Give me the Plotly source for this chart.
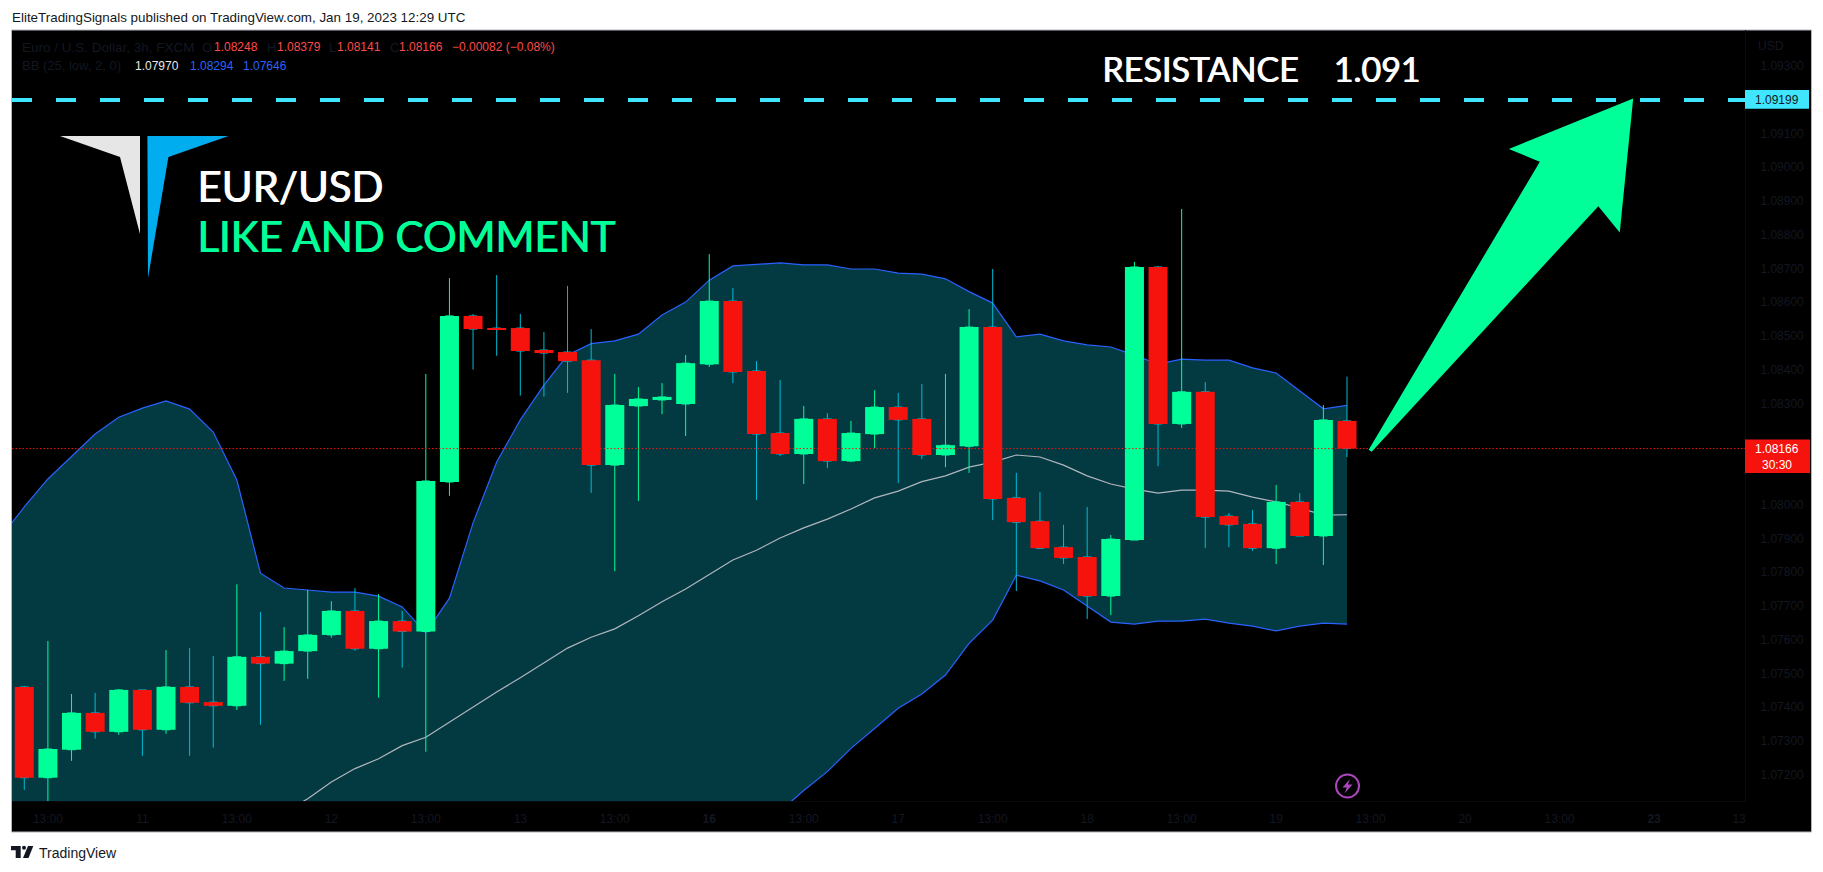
import plotly.graph_objects as go

# ---------- data ----------
open_ = [1.07460,1.07191,1.07274,1.07383,1.07327,1.07451,1.07333,1.07460,1.07415,1.07404,
         1.07549,1.07529,1.07566,1.07614,1.07685,1.07573,1.07655,1.07624,1.08067,1.08559,
         1.08523,1.08523,1.08458,1.08452,1.08428,1.08117,1.08292,1.08310,1.08298,1.08416,
         1.08603,1.08396,1.08212,1.08150,1.08254,1.08129,1.08209,1.08289,1.08254,1.08147,
         1.08173,1.08526,1.08020,1.07951,1.07874,1.07845,1.07729,1.07895,1.08704,1.08239,
         1.08334,1.07966,1.07943,1.07871,1.08008,1.07907,1.08248]
high = [1.07463,1.07596,1.07439,1.07442,1.07454,1.07451,1.07569,1.07575,1.07552,1.07764,
        1.07682,1.07637,1.07747,1.07714,1.07753,1.07735,1.07685,1.08387,1.08671,1.08565,
        1.08680,1.08565,1.08511,1.08648,1.08520,1.08387,1.08348,1.08360,1.08443,1.08742,
        1.08642,1.08425,1.08369,1.08292,1.08271,1.08248,1.08339,1.08331,1.08357,1.08387,
        1.08579,1.08698,1.08094,1.08037,1.07940,1.07993,1.07910,1.08719,1.08707,1.08876,
        1.08363,1.07975,1.07984,1.08058,1.08034,1.08295,1.08379]
low = [1.07155,1.07115,1.07241,1.07307,1.07318,1.07256,1.07321,1.07256,1.07280,1.07392,
       1.07348,1.07478,1.07484,1.07606,1.07567,1.07428,1.07517,1.07268,1.08026,1.08400,
       1.08441,1.08323,1.08320,1.08331,1.08035,1.07803,1.08011,1.08268,1.08203,1.08408,
       1.08360,1.08014,1.08144,1.08061,1.08108,1.08126,1.08168,1.08064,1.08135,1.08111,
       1.08094,1.07954,1.07744,1.07868,1.07824,1.07661,1.07673,1.07895,1.08114,1.08227,
       1.07871,1.07874,1.07863,1.07824,1.07907,1.07821,1.08141]
close = [1.07191,1.07276,1.07383,1.07327,1.07451,1.07333,1.07460,1.07413,1.07404,1.07549,
         1.07529,1.07566,1.07614,1.07685,1.07573,1.07655,1.07624,1.08070,1.08559,1.08520,
         1.08520,1.08455,1.08449,1.08425,1.08117,1.08295,1.08313,1.08319,1.08419,1.08603,
         1.08393,1.08209,1.08150,1.08254,1.08129,1.08212,1.08289,1.08251,1.08147,1.08176,
         1.08526,1.08017,1.07948,1.07871,1.07842,1.07729,1.07898,1.08704,1.08239,1.08334,
         1.07963,1.07940,1.07871,1.08008,1.07907,1.08251,1.08166]

# Bollinger bands, first point is the bar before the first visible candle
bb_upper = [1.07904,1.07993,1.08076,1.08144,1.08209,1.08259,1.08286,1.08307,1.08283,1.08215,
            1.08073,1.07797,1.07753,1.07747,1.07741,1.07741,1.07729,1.07697,1.07620,1.07723,
            1.07946,1.08126,1.08251,1.08354,1.08443,1.08477,1.08485,1.08505,1.08562,1.08600,
            1.08665,1.08707,1.08711,1.08716,1.08710,1.08710,1.08698,1.08698,1.08686,1.08683,
            1.08669,1.08631,1.08597,1.08497,1.08505,1.08485,1.08473,1.08467,1.08443,1.08416,
            1.08431,1.08428,1.08428,1.08405,1.08390,1.08336,1.08284,1.08294]
bb_lower = [1.0560,1.0565,1.0572,1.0578,1.0585,1.0592,1.0600,1.0610,1.0622,1.0590,
            1.0628,1.0635,1.0642,1.06511,1.06615,1.06695,1.06765,1.06875,1.07002,1.06989,
            1.06856,1.06764,1.06723,1.06710,1.06707,1.06737,1.06779,1.06841,1.06872,1.06918,
            1.06929,1.06971,1.07037,1.07092,1.07153,1.07209,1.07278,1.07337,1.07397,1.07439,
            1.07495,1.07589,1.07658,1.07791,1.07774,1.07747,1.07700,1.07652,1.07646,1.07655,
            1.07655,1.07661,1.07649,1.07640,1.07626,1.07640,1.07649,1.07646]
basis_first_bar = 11
bb_basis = [1.07087,1.07129,1.07178,1.07218,1.07247,1.07286,1.07311,1.07356,1.07401,1.07445,
            1.07487,1.07532,1.07575,1.07607,1.07632,1.07671,1.07712,1.07750,1.07794,1.07836,
            1.07865,1.07901,1.07931,1.07957,1.07987,1.08020,1.08040,1.08068,1.08085,1.08111,
            1.08126,1.08147,1.08141,1.08117,1.08085,1.08061,1.08046,1.08034,1.08043,1.08043,
            1.08040,1.08022,1.08008,1.07990,1.07969,1.07970]

resistance = 1.09199
last_close = 1.08166

# 1.081, 1.082 and 1.092 sit behind the value labels in the reference
price_ticks = [1.072,1.073,1.074,1.075,1.076,1.077,1.078,1.079,1.080,1.083,
               1.084,1.085,1.086,1.087,1.088,1.089,1.090,1.091,1.093]
time_tick_bars = [1,5,9,13,17,21,25,29,33,37,41,45,49,53,57,61,65,69,72.6]
time_tick_text = ["13:00","11","13:00","12","13:00","13","13:00","<b>16</b>","13:00","17",
                  "13:00","18","13:00","19","13:00","20","13:00","<b>23</b>","13"]

# ---------- palette ----------
GREEN, RED, CYAN_WICK = "#00FF99", "#F7130D", "#00BCD4"
BAND_FILL, BLUE, GREY = "#033A42", "#2962FF", "#B2B5BE"
DARK, LINE_CYAN, LEG_RED = "#131722", "#40E6FF", "#FF4A4A"
W, H = 1823, 872
L, R, T, B = 12, 78, 30, 71
X_RANGE = [-0.52, 72.85]
Y_RANGE = [1.07122, 1.09406]

bars = list(range(len(open_)))
band_x = list(range(-1, len(open_)))
basis_x = list(range(basis_first_bar, len(open_)))

fig = go.Figure()

# Bollinger bands (bottom subplot layer)
fig.add_trace(go.Scatter(x=band_x, y=bb_upper, mode="lines", line=dict(color=BLUE, width=1.2), showlegend=False))
fig.add_trace(go.Scatter(x=band_x, y=bb_lower, mode="lines", line=dict(color=BLUE, width=1.2),
                         fill="tonexty", fillcolor=BAND_FILL, showlegend=False))
fig.add_trace(go.Scatter(x=basis_x, y=bb_basis, mode="lines", line=dict(color=GREY, width=1.2), showlegend=False))

# Wicks: candlestick trace; wick colours differ from the body colours
fig.add_trace(go.Candlestick(x=bars, open=open_, high=high, low=low, close=close, yaxis="y2",
                             whiskerwidth=0, showlegend=False,
                             increasing=dict(line=dict(color=GREEN, width=1), fillcolor=GREEN),
                             decreasing=dict(line=dict(color=CYAN_WICK, width=1), fillcolor=CYAN_WICK)))

# Bodies on top
up = [i for i in bars if close[i] >= open_[i]]
dn = [i for i in bars if close[i] < open_[i]]
for idx, col in ((up, GREEN), (dn, RED)):
    fig.add_trace(go.Bar(x=idx,
                         base=[min(open_[i], close[i]) for i in idx],
                         y=[abs(close[i] - open_[i]) for i in idx],
                         width=0.805, marker=dict(color=col, line=dict(width=0)),
                         yaxis="y3", showlegend=False))

# Horizontal price lines
fig.add_trace(go.Scatter(x=X_RANGE, y=[last_close, last_close], mode="lines", yaxis="y3", showlegend=False,
                         line=dict(color=RED, width=1, dash="1.5px,2px")))
fig.add_trace(go.Scatter(x=X_RANGE, y=[resistance, resistance], mode="lines", yaxis="y3", showlegend=False,
                         line=dict(color=LINE_CYAN, width=4, dash="20px,24px")))


def px(x, y):
    return (x - L) / (W - L - R), (H - B - y) / (H - T - B)


def path(points, close_path=True):
    s = []
    for k, (x, y) in enumerate(points):
        a, b = px(x, y)
        s.append(f"{'M' if k == 0 else 'L'} {a:.5f} {b:.5f}")
    return " ".join(s) + (" Z" if close_path else "")


shapes = []


def rect(x0, y0, x1, y1, fill, line=None, layer="above"):
    a0, b0 = px(x0, y0)
    a1, b1 = px(x1, y1)
    shapes.append(dict(type="rect", xref="paper", yref="paper", x0=a0, y0=b0, x1=a1, y1=b1, layer=layer,
                       fillcolor=fill, line=dict(color=line or fill, width=1 if line else 0)))


def poly(points, fill, lw=0, layer="above"):
    shapes.append(dict(type="path", xref="paper", yref="paper", path=path(points), fillcolor=fill, layer=layer,
                       line=dict(color=fill, width=lw)))


# Chart frame behind everything
rect(11.5, 30, 1811.5, 832, "#000000", line=GREY, layer="below")

# Logo
poly([(60, 136), (140, 136), (140, 234), (120, 157)], "#E6E6E6")
poly([(147.4, 136), (228.5, 136), (168.4, 157), (148, 278)], "#00ADEE")

# Arrow
poly([(1370, 449.5), (1541.3, 161.3), (1511.5, 149), (1632, 100), (1619, 230), (1598.3, 204.7), (1371.5, 450.5)],
     GREEN, lw=2)

# Last-value price labels
rect(1745, 90, 1809, 108.7, LINE_CYAN)
rect(1745, 439.5, 1810, 473, RED)

# Lightning icon
a0, b0 = px(1336, 774.5)
a1, b1 = px(1359, 797.5)
shapes.append(dict(type="circle", xref="paper", yref="paper", x0=a0, y0=b0, x1=a1, y1=b1, layer="above",
                   fillcolor="#000000", line=dict(color="#AB47BC", width=2)))
poly([(1350, 779), (1342.5, 787.5), (1346.8, 787.5), (1344.5, 793.5), (1352.5, 784.5), (1348, 784.5)], "#AB47BC")

# TradingView footer logo
poly([(11, 846), (20.7, 846), (20.7, 858), (15.7, 858), (15.7, 850.2), (11, 850.2)], DARK)
a0, b0 = px(22, 845.8)
a1, b1 = px(26, 849.8)
shapes.append(dict(type="circle", xref="paper", yref="paper", x0=a0, y0=b0, x1=a1, y1=b1, layer="above",
                   fillcolor=DARK, line=dict(width=0)))
poly([(28, 846), (33.3, 846), (28.5, 858), (23, 858)], DARK)

annotations = []


def text(x, y, s, size, color, anchor="left", family="Liberation Sans", weight=None, shadow=None):
    a, b = px(x, y)
    f = dict(family=family, size=size, color=color)
    if weight:
        f["weight"] = weight
    if shadow:
        f["shadow"] = shadow
    annotations.append(dict(x=a, y=b, xref="paper", yref="paper", text=s, showarrow=False, xanchor=anchor,
                            yanchor="middle", borderpad=0, font=f))


text(11, 17, "EliteTradingSignals published on TradingView.com, Jan 19, 2023 12:29 UTC", 13.4, DARK)
text(20.5, 47, "Euro / U.S. Dollar, 3h, FXCM", 13.5, DARK)
for x, lab, x2, val in ((201, "O", 212.6, "1.08248"), (265.6, "H", 275.5, "1.08379"),
                        (328, "L", 336, "1.08141"), (389, "C", 398, "1.08166")):
    text(x, 47, lab, 13, DARK)
    text(x2, 47, val, 12, LEG_RED)
text(450.6, 47, "−0.00082 (−0.08%)", 12, LEG_RED)
text(20.5, 66, "BB (25, low, 2, 0)", 13, DARK)
text(134, 66, "1.07970", 12, "#E8E8E8")
text(188.5, 66, "1.08294", 12, BLUE)
text(242, 66, "1.07646", 12, BLUE)

THICK_W = "1px 0 0 #FFFFFF"
THICK_G = "1px 0 0 #00FF99"
text(196, 186, "EUR/USD", 42, "#FFFFFF", family="Lato", shadow=THICK_W)
text(196, 236, "LIKE AND COMMENT", 42, GREEN, family="Lato", shadow=THICK_G)
text(1101, 68, "RESISTANCE    1.091", 34, "#FFFFFF", family="Lato", shadow=THICK_W)

text(1757, 46, "USD", 12, DARK)
text(1777, 100, "1.09199", 12, DARK, anchor="center")
text(1777, 449, "1.08166", 12, "#FFFFFF", anchor="center")
text(1777, 465, "30:30", 12, "#FFFFFF", anchor="center")
text(38, 853, "TradingView", 14, DARK)

AXIS_LINE = "#0A0B0E"
fig.update_layout(
    width=W, height=H, autosize=False,
    margin=dict(l=L, r=R, t=T, b=B, pad=0),
    paper_bgcolor="#FFFFFF", plot_bgcolor="#000000",
    barmode="overlay", boxgap=0.5, showlegend=False,
    shapes=shapes, annotations=annotations,
    xaxis=dict(range=X_RANGE, tickmode="array", tickvals=time_tick_bars, ticktext=time_tick_text,
               showgrid=False, zeroline=False, rangeslider=dict(visible=False),
               showline=True, linecolor=AXIS_LINE, linewidth=1,
               ticks="outside", ticklen=7, tickcolor="#000000", tickangle=0,
               tickfont=dict(family="Liberation Sans", size=12, color=DARK)),
    yaxis=dict(range=Y_RANGE, side="right", tickmode="array", tickvals=price_ticks,
               ticktext=[f"{v:.5f}" for v in price_ticks], showgrid=False, zeroline=False,
               showline=True, linecolor=AXIS_LINE, linewidth=1,
               ticks="outside", ticklen=12, tickcolor="#000000",
               tickfont=dict(family="Liberation Sans", size=12, color=DARK)),
    yaxis2=dict(range=Y_RANGE, overlaying="y", visible=False),
    yaxis3=dict(range=Y_RANGE, overlaying="y", visible=False),
)

fig.write_html("out.html", config=dict(displayModeBar=False),
               post_script="document.body.style.margin='0';document.body.style.overflow='hidden';")
